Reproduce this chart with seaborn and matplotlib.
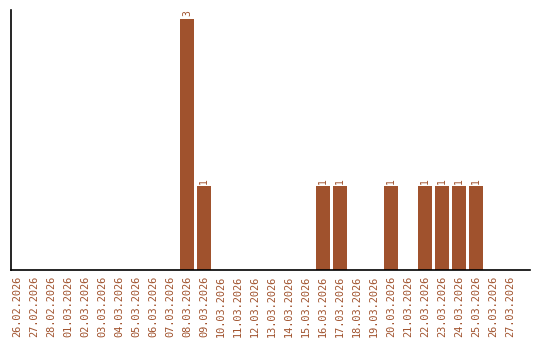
import matplotlib
matplotlib.use("Agg")
import matplotlib.pyplot as plt
import seaborn as sns
import pandas as pd

dates = ["26.02.2026", "27.02.2026", "28.02.2026", "01.03.2026", "02.03.2026",
         "03.03.2026", "04.03.2026", "05.03.2026", "06.03.2026", "07.03.2026",
         "08.03.2026", "09.03.2026", "10.03.2026", "11.03.2026", "12.03.2026",
         "13.03.2026", "14.03.2026", "15.03.2026", "16.03.2026", "17.03.2026",
         "18.03.2026", "19.03.2026", "20.03.2026", "21.03.2026", "22.03.2026",
         "23.03.2026", "24.03.2026", "25.03.2026", "26.03.2026", "27.03.2026"]
counts = [0, 0, 0, 0, 0, 0, 0, 0, 0, 0,
          3, 1, 0, 0, 0, 0, 0, 0, 1, 1,
          0, 0, 1, 0, 1, 1, 1, 1, 0, 0]

color = "#A0522D"
df = pd.DataFrame({"date": dates, "count": counts})

sns.set_style("white")
plt.rcParams["font.family"] = ["DejaVu Sans Mono", "DejaVu Sans"]

fig = plt.figure(figsize=(5.4, 3.4), dpi=100)
ax = fig.add_axes([11 / 540, 70 / 340, 519 / 540, 260 / 340])
sns.barplot(data=df, x="date", y="count", color=color, saturation=1,
            width=0.84, linewidth=0, ax=ax)

for c in ax.containers:
    labels = [str(int(v)) if v > 0 else "" for v in c.datavalues]
    ax.bar_label(c, labels=labels, rotation=90, padding=2, fontsize=7, color=color)

ax.set_xlim(-0.35, 30.18)
ax.set_ylim(0, 3.11)
ax.set_xlabel("")
ax.set_ylabel("")
ax.set_yticks([])
ax.tick_params(axis="x", length=0, pad=4, labelsize=7.4, labelcolor=color,
               rotation=90)
for s in ["top", "right"]:
    ax.spines[s].set_visible(False)
for s in ["left", "bottom"]:
    ax.spines[s].set_color("black")
    ax.spines[s].set_linewidth(1.2)

fig.savefig("out.png", dpi=100)
